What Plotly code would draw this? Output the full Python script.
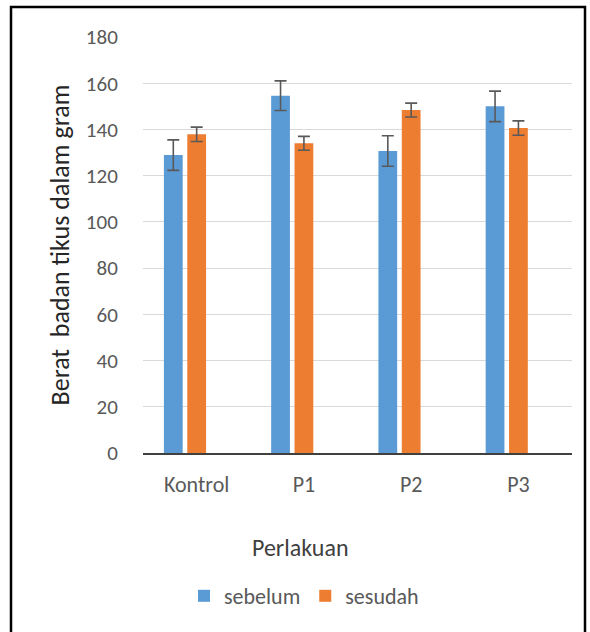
import plotly.graph_objects as go

categories = ["Kontrol", "P1", "P2", "P3"]
sebelum = [128.9, 154.6, 130.7, 150.0]
sebelum_err = [6.6, 6.4, 6.6, 6.6]
sesudah = [137.9, 134.0, 148.4, 140.6]
sesudah_err = [3.1, 3.0, 3.0, 3.1]
y_ticks = [0, 20, 40, 60, 80, 100, 120, 140, 160, 180]

W, H = 590, 632
ML, MR, MT, MB = 143, 18, 37, 179
pw, ph = W - ML - MR, H - MT - MB

FONT = "Carlito, Lato, 'Liberation Sans', sans-serif"
err_style = dict(type="data", color="#595959", thickness=1.6, width=6)

fig = go.Figure()
fig.add_trace(go.Bar(
    x=categories, y=sebelum, name="sebelum",
    marker=dict(color="#5B9BD5", line=dict(width=0)),
    offset=-0.305, width=0.175,
    error_y=dict(array=sebelum_err, **err_style),
))
fig.add_trace(go.Bar(
    x=categories, y=sesudah, name="sesudah",
    marker=dict(color="#ED7D31", line=dict(width=0)),
    offset=-0.087, width=0.175,
    error_y=dict(array=sesudah_err, **err_style),
))

def px_x(x):
    return (x - ML) / pw

def px_y(y):
    return (H - MB - y) / ph

fig.add_shape(type="rect", xref="paper", yref="paper",
              x0=px_x(11), x1=px_x(585), y0=px_y(660), y1=px_y(7),
              line=dict(color="black", width=2.5), fillcolor="rgba(0,0,0,0)",
              layer="above")

fig.add_annotation(text="Perlakuan", xref="paper", yref="paper",
                   x=px_x(300), y=px_y(547), xanchor="center", yanchor="middle",
                   showarrow=False, font=dict(family=FONT, size=24, color="#404040"))

fig.update_layout(
    width=W, height=H,
    margin=dict(l=ML, r=MR, t=MT, b=MB),
    paper_bgcolor="white", plot_bgcolor="white",
    barmode="overlay",
    font=dict(family=FONT, color="#595959"),
    showlegend=True,
    legend=dict(orientation="h", x=px_x(304), xanchor="center",
                y=px_y(596), yanchor="middle",
                font=dict(size=22, color="#595959"),
                itemwidth=30, traceorder="normal"),
    xaxis=dict(
        type="category", showgrid=False, showline=True,
        linecolor="#404040", linewidth=1.5,
        tickfont=dict(size=22, color="#595959"),
        ticks="outside", ticklen=11, tickcolor="rgba(0,0,0,0)",
    ),
    yaxis=dict(
        range=[0, 180], tickvals=y_ticks, showgrid=True,
        gridcolor="#D9D9D9", gridwidth=1, zeroline=False,
        showline=False,
        tickfont=dict(size=21, color="#595959"),
        ticks="outside", ticklen=20, tickcolor="rgba(0,0,0,0)",
        title=dict(text="Berat  badan tikus dalam gram", font=dict(size=26, color="#262626"), standoff=8),
    ),
)

fig.write_html("out.html", config={"displayModeBar": False},
               post_script="document.body.style.margin='0px';")
